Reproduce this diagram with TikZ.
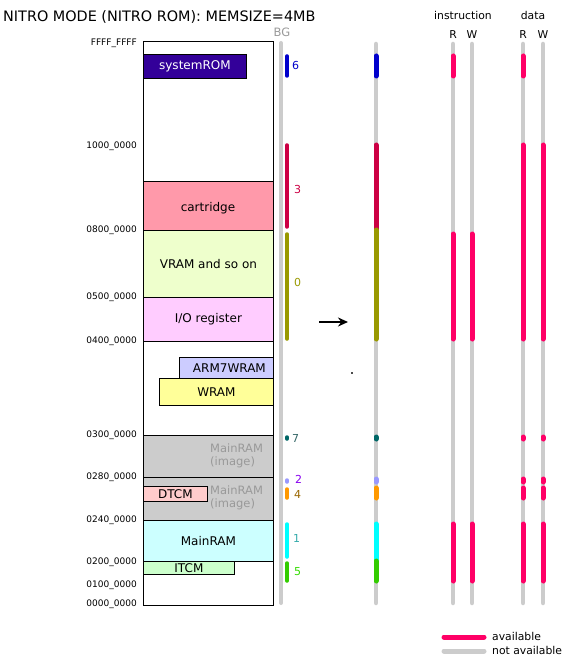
\documentclass[tikz,border=0pt]{standalone}
\usepackage{fontspec}
\setmainfont{DejaVu Sans}
\usetikzlibrary{arrows.meta}
\definecolor{sysrom}{HTML}{330099}
\definecolor{cartc}{HTML}{FF99AA}
\definecolor{vramc}{HTML}{EEFFCC}
\definecolor{ioc}{HTML}{FFCCFF}
\definecolor{arm7c}{HTML}{CCCCFF}
\definecolor{wramc}{HTML}{FFFF99}
\definecolor{mimgc}{HTML}{CCCCCC}
\definecolor{mimgt}{HTML}{999999}
\definecolor{dtcmc}{HTML}{FFCCCC}
\definecolor{mramc}{HTML}{CCFFFF}
\definecolor{itcmc}{HTML}{CCFFCC}
\definecolor{bggray}{HTML}{CCCCCC}
\definecolor{csix}{HTML}{0000CC}
\definecolor{cthree}{HTML}{CC0044}
\definecolor{czero}{HTML}{999900}
\definecolor{cseven}{HTML}{006666}
\definecolor{csevent}{HTML}{336666}
\definecolor{ctwo}{HTML}{9999FF}
\definecolor{ctwot}{HTML}{8800EE}
\definecolor{cfour}{HTML}{FF9900}
\definecolor{cfourt}{HTML}{996600}
\definecolor{cone}{HTML}{00FFFF}
\definecolor{conet}{HTML}{33AAAA}
\definecolor{cfive}{HTML}{33CC00}
\definecolor{cfivet}{HTML}{33DD00}
\definecolor{avail}{HTML}{FF0066}
\tikzset{
  region/.style={draw=black, line width=0.8pt, inner sep=0pt, anchor=north west, font=\fontsize{12}{13}\selectfont},
  addr/.style={anchor=east, inner sep=0pt, font=\fontsize{9}{10}\selectfont},
  bglab/.style={anchor=west, inner sep=0pt, font=\fontsize{11}{12}\selectfont},
  small/.style={inner sep=0pt, font=\fontsize{10.8}{12}\selectfont},
  graybar/.style={line width=4.5pt, line cap=round, bggray},
  segl/.style={line width=3.5pt, line cap=round},
  segr/.style={line width=5pt, line cap=round},
}
\begin{document}
\begin{tikzpicture}[x=1pt,y=-1pt]
\useasboundingbox (0,0) rectangle (583,668);
% title
\node[anchor=west, inner sep=0pt, font=\fontsize{14.4}{16}\selectfont] (title) at (3,16.5) {NITRO MODE (NITRO ROM): MEMSIZE=4MB};
% main box
\node[draw=black, line width=0.9pt, minimum width=130pt, minimum height=564pt, anchor=north west, inner sep=0pt] (mem) at (143,41) {};
% regions
\node[region, fill=sysrom, text=white, minimum width=103pt, minimum height=24pt] (sysrom) at (143,54) {systemROM};
\node[region, fill=cartc, minimum width=130pt, minimum height=49pt] (cart) at (143,181) {};
\node[inner sep=0pt, font=\fontsize{12}{13}\selectfont] (cartlab) at (208,208) {cartridge};
\node[region, fill=vramc, minimum width=130pt, minimum height=67pt] (vram) at (143,230) {VRAM and so on};
\node[region, fill=ioc, minimum width=130pt, minimum height=44pt] (io) at (143,297) {I/O register};
\node[region, fill=arm7c, minimum width=94pt, minimum height=21pt] (arm7) at (179,357) {\hspace*{6pt}ARM7WRAM};
\node[region, fill=wramc, minimum width=114pt, minimum height=27pt] (wram) at (159,378) {WRAM};
\node[region, fill=mimgc, minimum width=130pt, minimum height=42pt] (mimgA) at (143,435) {};
\node[region, fill=mimgc, minimum width=130pt, minimum height=43pt] (mimgB) at (143,477) {};
\node[region, fill=mramc, minimum width=130pt, minimum height=41pt] (mram) at (143,520) {MainRAM};
\node[region, fill=dtcmc, minimum width=64pt, minimum height=15pt] (dtcm) at (143,486) {DTCM};
\node[region, fill=itcmc, minimum width=91pt, minimum height=13pt] (itcm) at (143,561) {ITCM};
\node[anchor=north west, inner sep=0pt, align=left, text=mimgt, font=\fontsize{11.5}{13}\selectfont] (mimgAt) at (210,444) {MainRAM\\(image)};
\node[anchor=north west, inner sep=0pt, align=left, text=mimgt, font=\fontsize{11.5}{13}\selectfont] (mimgBt) at (210,486) {MainRAM\\(image)};
% address labels
\node[addr] (aFFFF) at (137,43) {FFFF\_FFFF};
\node[addr] (a1000) at (137,146) {1000\_0000};
\node[addr] (a0800) at (137,230) {0800\_0000};
\node[addr] (a0500) at (137,297) {0500\_0000};
\node[addr] (a0400) at (137,341) {0400\_0000};
\node[addr] (a0300) at (137,435) {0300\_0000};
\node[addr] (a0280) at (137,477) {0280\_0000};
\node[addr] (a0240) at (137,520) {0240\_0000};
\node[addr] (a0200) at (137,562) {0200\_0000};
\node[addr] (a0100) at (137,585) {0100\_0000};
\node[addr] (a0000) at (137,604) {0000\_0000};
% BG column (left)
\node[inner sep=0pt, text=mimgt, font=\fontsize{11.5}{13}\selectfont] (bg) at (282,32) {BG};
\draw[line width=4pt, line cap=round, bggray] (281,43) -- (281,603);
\draw[segl, csix] (287,56) -- (287,76);
\draw[segl, cthree] (287,145) -- (287,227);
\draw[segl, czero] (287,234) -- (287,339);
\draw[segl, cseven] (287,437) -- (287,439);
\draw[segl, ctwo] (287,480) -- (287,482);
\draw[segl, cfour] (287,489) -- (287,498);
\draw[segl, cone] (287,524) -- (287,557);
\draw[segl, cfive] (287,563) -- (287,581);
\node[bglab, text=csix] (l6) at (292,65) {6};
\node[bglab, text=cthree] (l3) at (294,189) {3};
\node[bglab, text=czero] (l0) at (294,282) {0};
\node[bglab, text=csevent] (l7) at (292,438) {7};
\node[bglab, text=ctwot] (l2) at (295,479) {2};
\node[bglab, text=cfourt] (l4) at (294,494) {4};
\node[bglab, text=conet] (l1) at (293,538) {1};
\node[bglab, text=cfivet] (l5) at (294,572) {5};
% arrow
\coordinate (arrS) at (319,322);
\coordinate (arrE) at (348,322);
\draw[line width=2.2pt, -{Stealth[length=10pt,width=9pt]}] (arrS) -- (arrE);
\fill[black!70] (351.3,372.3) rectangle (353,374);
% right columns
\node[small] (instr) at (463,15) {instruction};
\node[small] (datal) at (533,15) {data};
\node[small] (iR) at (453,35) {R};
\node[small] (iW) at (472,35) {W};
\node[small] (dR) at (523,35) {R};
\node[small] (dW) at (543,35) {W};
\foreach \x in {376,453,472,523,543} {\draw[graybar] (\x,44) -- (\x,603);}
% BG right
\draw[segr, csix] (376,56) -- (376,76);
\draw[segr, cthree] (376,145) -- (376,230);
\draw[segr, czero] (376,230) -- (376,339);
\draw[segr, cseven] (376,437) -- (376,439);
\draw[segr, ctwo] (376,479) -- (376,482);
\draw[segr, cfour] (376,488) -- (376,498);
\draw[segr, cone] (376,524) -- (376,560);
\draw[segr, cfive] (376,561) -- (376,581);
% instruction
\draw[segr, avail] (453,56) -- (453,76);
\foreach \x in {453,472} {
  \draw[segr, avail] (\x,234) -- (\x,339);
  \draw[segr, avail] (\x,524) -- (\x,581);
}
% data
\draw[segr, avail] (523,56) -- (523,76);
\foreach \x in {523,543} {
  \draw[segr, avail] (\x,145) -- (\x,339);
  \draw[segr, avail] (\x,437) -- (\x,439);
  \draw[segr, avail] (\x,479) -- (\x,482);
  \draw[segr, avail] (\x,488) -- (\x,498);
  \draw[segr, avail] (\x,524) -- (\x,581);
}
% legend
\coordinate (lgA1) at (444,637);
\coordinate (lgA2) at (484,637);
\coordinate (lgB1) at (444,651);
\coordinate (lgB2) at (484,651);
\draw[segr, avail] (lgA1) -- (lgA2);
\draw[segr, bggray] (lgB1) -- (lgB2);
\node[small, anchor=west] (lav) at (492,636) {available};
\node[small, anchor=west] (lnav) at (492,650) {not available};
\end{tikzpicture}
\end{document}
